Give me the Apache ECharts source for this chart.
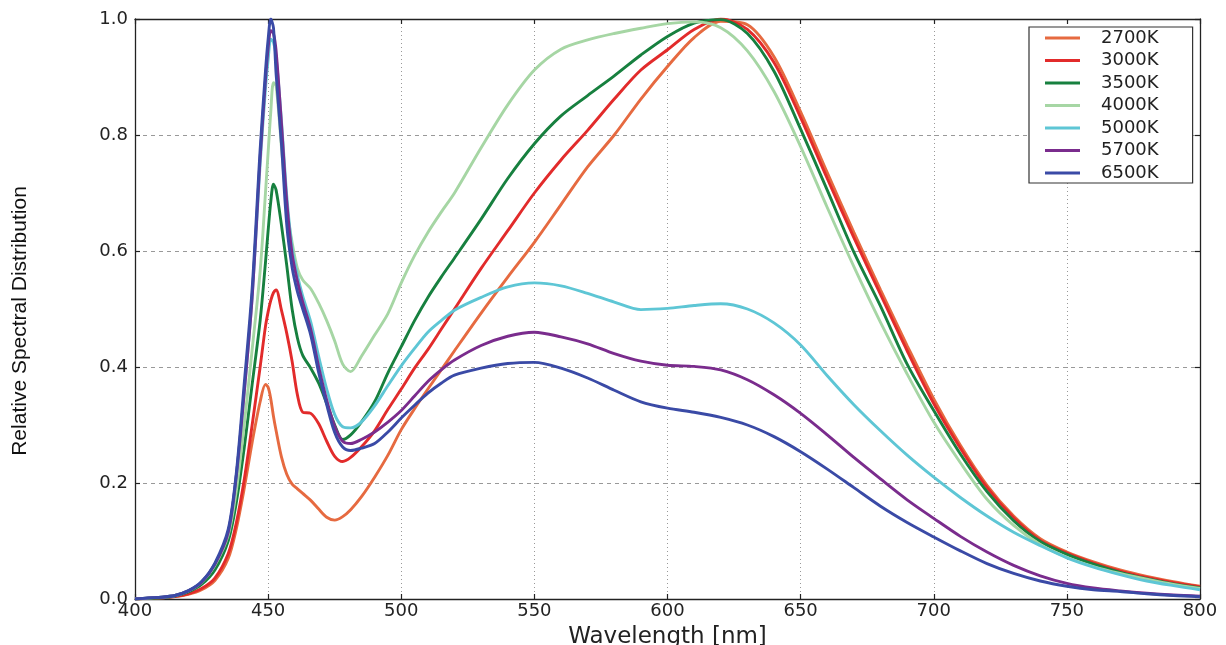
<!DOCTYPE html>
<html>
<head>
<meta charset="utf-8">
<script src="https://cdn.jsdelivr.net/npm/echarts@6/dist/echarts.min.js"></script>
<style>
html,body{margin:0;padding:0;background:#fff;}
#chart{width:1226px;height:645px;}
</style>
</head>
<body>
<div id="chart"></div>
<script>
// Wavelength grid (nm)
const wavelengths = [400,405,410,415,420,425,430,435,438,441,444,447,449,450,451,452,453,455,457,459,461,463,466,469,472,475,478,481,485,490,495,500,505,510,515,520,530,540,550,560,570,580,590,600,610,620,630,640,650,660,670,680,690,700,710,720,730,740,750,760,770,780,790,800];

// Relative spectral distribution per CCT
const s2700K = [0.000,0.001,0.002,0.004,0.008,0.016,0.032,0.070,0.120,0.190,0.270,0.340,0.370,0.365,0.345,0.315,0.290,0.245,0.215,0.198,0.190,0.182,0.170,0.155,0.141,0.136,0.142,0.154,0.176,0.210,0.248,0.292,0.328,0.362,0.395,0.428,0.493,0.555,0.615,0.680,0.745,0.800,0.862,0.918,0.968,0.996,0.990,0.935,0.840,0.735,0.632,0.533,0.437,0.345,0.265,0.196,0.143,0.104,0.081,0.064,0.050,0.039,0.030,0.022];
const s3000K = [0.000,0.001,0.002,0.004,0.009,0.018,0.036,0.078,0.130,0.205,0.300,0.400,0.470,0.495,0.515,0.528,0.533,0.498,0.458,0.410,0.352,0.322,0.320,0.302,0.272,0.246,0.237,0.244,0.262,0.290,0.327,0.362,0.398,0.430,0.465,0.500,0.570,0.635,0.700,0.757,0.808,0.862,0.912,0.947,0.982,1.000,0.982,0.925,0.830,0.725,0.623,0.525,0.428,0.337,0.260,0.192,0.140,0.101,0.079,0.062,0.048,0.037,0.028,0.021];
const s3500K = [0.000,0.001,0.002,0.005,0.012,0.025,0.050,0.100,0.165,0.260,0.370,0.480,0.580,0.635,0.685,0.715,0.705,0.645,0.575,0.500,0.450,0.420,0.398,0.372,0.337,0.300,0.275,0.283,0.305,0.340,0.390,0.435,0.480,0.520,0.555,0.588,0.655,0.725,0.785,0.833,0.868,0.902,0.938,0.970,0.993,0.999,0.975,0.910,0.810,0.705,0.598,0.505,0.405,0.325,0.250,0.185,0.135,0.099,0.077,0.060,0.046,0.035,0.026,0.019];
const s4000K = [0.000,0.002,0.003,0.006,0.014,0.029,0.058,0.110,0.185,0.300,0.430,0.565,0.700,0.770,0.840,0.890,0.885,0.780,0.675,0.615,0.570,0.550,0.535,0.510,0.480,0.445,0.405,0.392,0.418,0.455,0.492,0.545,0.592,0.632,0.667,0.700,0.778,0.852,0.912,0.948,0.964,0.975,0.984,0.992,0.995,0.985,0.945,0.875,0.780,0.675,0.573,0.477,0.388,0.305,0.235,0.172,0.127,0.094,0.072,0.056,0.044,0.034,0.025,0.018];
const s5000K = [0.000,0.002,0.003,0.006,0.014,0.029,0.060,0.115,0.210,0.355,0.520,0.750,0.880,0.930,0.965,0.960,0.935,0.825,0.695,0.605,0.558,0.522,0.478,0.418,0.362,0.318,0.297,0.295,0.305,0.333,0.368,0.402,0.432,0.460,0.480,0.498,0.520,0.538,0.545,0.540,0.527,0.512,0.499,0.501,0.506,0.509,0.500,0.476,0.438,0.385,0.335,0.290,0.248,0.210,0.175,0.143,0.115,0.092,0.071,0.055,0.042,0.031,0.023,0.016];
const s5700K = [0.000,0.002,0.003,0.006,0.014,0.029,0.060,0.115,0.210,0.355,0.520,0.760,0.895,0.950,0.980,0.975,0.945,0.820,0.685,0.595,0.548,0.512,0.465,0.400,0.343,0.298,0.272,0.268,0.275,0.288,0.305,0.325,0.350,0.375,0.395,0.412,0.437,0.453,0.460,0.452,0.440,0.423,0.410,0.403,0.401,0.395,0.378,0.352,0.320,0.283,0.244,0.207,0.171,0.139,0.108,0.081,0.058,0.040,0.027,0.019,0.014,0.010,0.007,0.005];
const s6500K = [0.000,0.002,0.003,0.006,0.014,0.030,0.062,0.120,0.215,0.370,0.535,0.775,0.910,0.965,1.000,0.985,0.905,0.785,0.645,0.572,0.530,0.500,0.455,0.390,0.335,0.287,0.262,0.256,0.260,0.268,0.288,0.312,0.334,0.355,0.372,0.386,0.398,0.406,0.408,0.398,0.381,0.360,0.340,0.329,0.322,0.313,0.300,0.280,0.254,0.224,0.192,0.160,0.132,0.107,0.083,0.061,0.044,0.031,0.022,0.016,0.013,0.009,0.006,0.004];

const seriesNames = ['2700K','3000K','3500K','4000K','5000K','5700K','6500K'];
const seriesValues = [s2700K, s3000K, s3500K, s4000K, s5000K, s5700K, s6500K];
const seriesColors = ['#E66A40','#E22B2B','#17803F','#A6D6A4','#5EC6D5','#7A2C8D','#3A4AA6'];

const xTitle = 'Wavelength [nm]';
const yTitle = 'Relative Spectral Distribution';

const frameColor = '#222';
const tickFont = {fontFamily:'DejaVu Sans', fontSize:18, color:'#222'};

const chart = echarts.init(document.getElementById('chart'));

const option = {
  animation: false,
  backgroundColor: '#fff',
  grid: {left:135, right:26, top:19, bottom:46, containLabel:false, outerBoundsMode:'none'},
  legend: {
    orient: 'vertical',
    left: 1029,
    top: 27,
    data: seriesNames,
    icon: 'rect',
    itemWidth: 35,
    itemHeight: 3,
    itemGap: 4.5,
    padding: [2, 34, 1, 16],
    borderColor: '#333',
    borderWidth: 1.2,
    borderRadius: 0,
    backgroundColor: '#fff',
    textStyle: {fontFamily:'DejaVu Sans', fontSize:18, lineHeight:18, color:'#222', padding:[0,0,0,16]}
  },
  xAxis: [
    {
      type:'value', min:400, max:800, interval:50, position:'bottom',
      name: xTitle, nameLocation:'middle', nameGap:27,
      nameTextStyle:{fontFamily:'DejaVu Sans', fontSize:23, color:'#222'},
      axisLine:{show:true, onZero:false, lineStyle:{color:frameColor, width:1.3}},
      axisTick:{show:true, inside:true, length:5, lineStyle:{color:frameColor, width:1.2}},
      axisLabel:Object.assign({margin:3}, tickFont),
      splitLine:{show:true, lineStyle:{color:'#999', type:[1,3], width:1}}
    },
    {
      type:'value', min:400, max:800, interval:50, position:'top',
      axisLine:{show:true, onZero:false, lineStyle:{color:frameColor, width:1.3}},
      axisTick:{show:true, inside:true, length:5, lineStyle:{color:frameColor, width:1.2}},
      axisLabel:{show:false}, splitLine:{show:false}
    }
  ],
  yAxis: [
    {
      type:'value', min:0, max:1, interval:0.2, position:'left',
      axisLine:{show:true, onZero:false, lineStyle:{color:frameColor, width:1.3}},
      axisTick:{show:true, inside:true, length:5, lineStyle:{color:frameColor, width:1.2}},
      axisLabel:Object.assign({margin:7, formatter:function(v){return v.toFixed(1);}}, tickFont),
      splitLine:{show:true, lineStyle:{color:'#999', type:[4,4], width:1}}
    },
    {
      type:'value', min:0, max:1, interval:0.2, position:'right',
      axisLine:{show:true, onZero:false, lineStyle:{color:frameColor, width:1.3}},
      axisTick:{show:true, inside:true, length:5, lineStyle:{color:frameColor, width:1.2}},
      axisLabel:{show:false}, splitLine:{show:false}
    }
  ],
  graphic: [
    {
      type:'text', x:20, y:321, rotation: Math.PI/2,
      style:{text:yTitle, fontFamily:'Liberation Sans', fontSize:21, fill:'#111', align:'center', verticalAlign:'middle'}
    }
  ],
  series: seriesNames.map(function(name, i){
    return {
      name: name,
      type: 'line',
      xAxisIndex: 0,
      yAxisIndex: 0,
      showSymbol: false,
      symbol: 'none',
      smooth: 0.3,
      clip: true,
      color: seriesColors[i],
      lineStyle: {width: 2.9, color: seriesColors[i]},
      z: 2 + i,
      data: wavelengths.map(function(w, k){ return [w, seriesValues[i][k]]; })
    };
  })
};

chart.setOption(option);
</script>
</body>
</html>
